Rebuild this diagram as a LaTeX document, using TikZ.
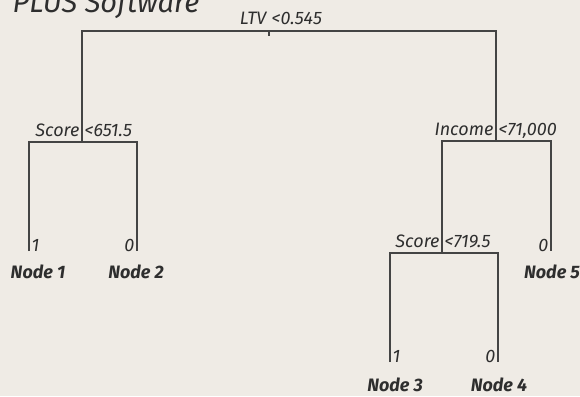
\documentclass[tikz,border=0pt]{standalone}
\usepackage{fontspec}
\setmainfont{Fira Sans}
\usepackage{tikz}
\definecolor{paper}{HTML}{EFEBE5}
\definecolor{ink}{HTML}{444444}
\definecolor{txt}{HTML}{2E2E2E}

\begin{document}
\begin{tikzpicture}[x=1pt,y=-1pt,line width=1.3pt,draw=ink,
	every node/.style={inner sep=0pt,text=txt,font=\fontsize{18}{20}\selectfont\itshape},
	var/.style={anchor=base east},cut/.style={anchor=base west},
	leafname/.style={anchor=base,font=\fontsize{18}{20}\selectfont\bfseries\itshape}]
	\fill[paper] (0,0) rectangle (580,396);
	\useasboundingbox (0,0) rectangle (580,396);
	\node[anchor=base west,font=\fontsize{29}{30}\selectfont\itshape] (title) at (12,12.5) {PLUS Software};
	\coordinate (r) at (269,31);
	\coordinate (a) at (82,142);
	\coordinate (b) at (496,141);
	\coordinate (c) at (442,253);
	\coordinate (l1) at (29,251);
	\coordinate (l2) at (137,251);
	\coordinate (l5) at (551,251);
	\coordinate (l3) at (390,362);
	\coordinate (l4) at (498,362);
	\draw (a) -- (a |- r) -- (b |- r) -- (b);
	\draw (r) -- ++(0,5);
	\draw (l1) -- (l1 |- a) -- (l2 |- a) -- (l2);
	\draw (c) -- (c |- b) -- (l5 |- b) -- (l5);
	\draw (l3) -- (l3 |- c) -- (l4 |- c) -- (l4);
	\node[var] (rv) at ([shift={(-2,-6)}]r) {LTV};
	\node[cut] (rc) at ([shift={(2,-6)}]r) {<0.545};
	\node[var] (av) at ([shift={(-2,-5.5)}]a) {Score};
	\node[cut] (ac) at ([shift={(2,-5.5)}]a) {<651.5};
	\node[var] (bv) at ([shift={(-2,-5.5)}]b) {Income};
	\node[cut] (bc) at ([shift={(2,-5.5)}]b) {<71,000};
	\node[var] (cv) at ([shift={(-2,-5.5)}]c) {Score};
	\node[cut] (cc) at ([shift={(2,-5.5)}]c) {<719.5};
	\node[cut] (y1) at ([xshift=2]l1) {1};
	\node[var] (y2) at ([xshift=-2]l2) {0};
	\node[var] (y5) at ([xshift=-2]l5) {0};
	\node[cut] (y3) at ([xshift=2]l3) {1};
	\node[var] (y4) at ([xshift=-2]l4) {0};
	\node[leafname] (n1) at ([shift={(9,27)}]l1) {Node 1};
	\node[leafname] (n2) at ([shift={(-1,27)}]l2) {Node 2};
	\node[leafname] (n5) at ([shift={(1,27)}]l5) {Node 5};
	\node[leafname] (n3) at ([shift={(5,29)}]l3) {Node 3};
	\node[leafname] (n4) at ([shift={(1,29)}]l4) {Node 4};
\end{tikzpicture}
\end{document}
